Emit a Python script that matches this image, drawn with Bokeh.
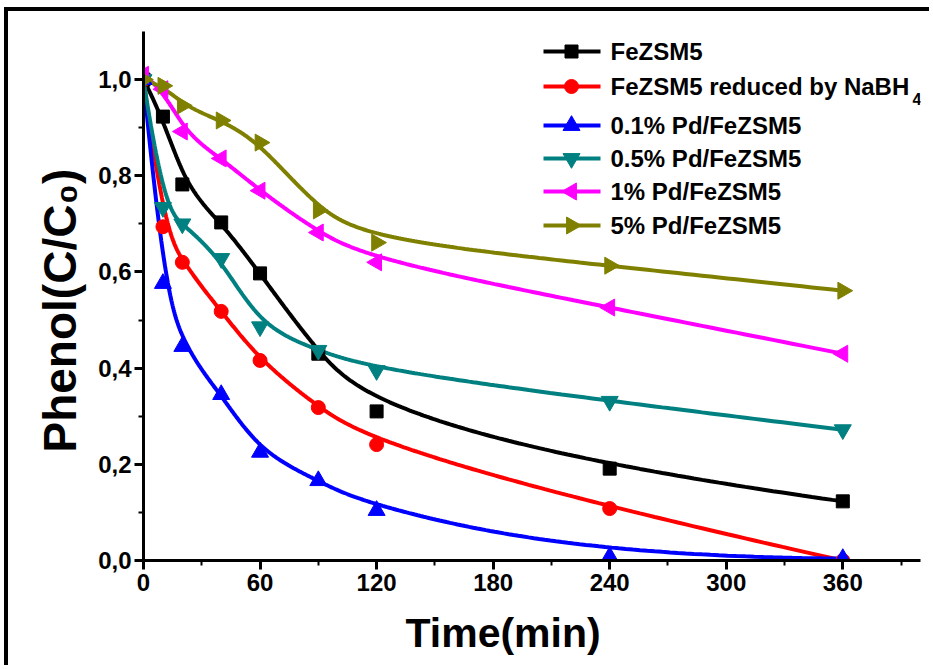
import numpy as np
from bokeh.plotting import figure
from bokeh.models import Range1d, FixedTicker, Label, Title
from bokeh.embed import file_html
from bokeh.resources import INLINE

# Phenol removal over time, C/C0
time_min = [0, 10, 20, 40, 60, 90, 120, 240, 360]
fezsm5 = [1.0, 0.923, 0.782, 0.703, 0.597, 0.430, 0.310, 0.191, 0.123]
fezsm5_nabh4 = [1.0, 0.694, 0.620, 0.518, 0.416, 0.318, 0.241, 0.108, 0.0]
pd_01 = [1.0, 0.576, 0.445, 0.345, 0.225, 0.166, 0.104, 0.008, 0.004]
pd_05 = [1.0, 0.734, 0.700, 0.628, 0.486, 0.437, 0.395, 0.331, 0.272]
pd_1 = [1.01, 0.980, 0.892, 0.836, 0.769, 0.682, 0.620, 0.526, 0.430]
pd_5 = [1.0, 0.987, 0.946, 0.915, 0.869, 0.728, 0.661, 0.613, 0.561]

series_names = ["FeZSM5", "FeZSM5 reduced by NaBH", "0.1% Pd/FeZSM5",
                "0.5% Pd/FeZSM5", "1% Pd/FeZSM5", "5% Pd/FeZSM5"]
series_values = [fezsm5, fezsm5_nabh4, pd_01, pd_05, pd_1, pd_5]
series_colors = ["#000000", "#FF0000", "#0000FF", "#008080", "#FF00FF", "#808000"]
series_markers = ["square", "circle", "triangle", "inverted_triangle", "triangle", "triangle"]
marker_angles = [0, 0, 0, 0, np.pi / 2, -np.pi / 2]
marker_sizes = [13, 14, 17, 17, 17, 17]

x_ticks = [0, 60, 120, 180, 240, 300, 360]
x_minor = [30, 90, 150, 210, 270, 330, 390]
y_ticks = [0.0, 0.2, 0.4, 0.6, 0.8, 1.0]
y_tick_labels = ["0,0", "0,2", "0,4", "0,6", "0,8", "1,0"]
y_minor = [0.1, 0.3, 0.5, 0.7, 0.9]

FONT = "Liberation Sans"
# the canvas sits inside a black top/left page rule drawn with CSS
OX, OY = 8, 11
W, H = 933 - OX, 669 - OY
LEFT, RIGHT, TOP, BOTTOM = 143 - OX, 920 - OX, 31 - OY, 560 - OY
X0, X1, Y0, Y1 = 0, 400, 0, 1.1


def dx(px):
    """page x -> data x"""
    return X0 + (px - OX - LEFT) * (X1 - X0) / (RIGHT - LEFT)


def dy(py):
    """page y -> data y"""
    return Y0 + (BOTTOM - (py - OY)) * (Y1 - Y0) / (BOTTOM - TOP)


def bspline(xs, ys, samples=400, k=3):
    """Clamped uniform cubic B-spline using the points as control polygon."""
    P = np.column_stack([xs, ys]).astype(float)
    nc = len(P)
    T = np.concatenate([np.zeros(k + 1), np.arange(1, nc - k), np.full(k + 1, nc - k)]).astype(float)
    u = np.linspace(0, nc - k, samples)
    u[-1] -= 1e-9
    N = np.zeros((samples, len(T) - 1))
    for i in range(len(T) - 1):
        N[:, i] = ((T[i] <= u) & (u < T[i + 1])).astype(float)
    for d in range(1, k + 1):
        M = np.zeros((samples, len(T) - 1 - d))
        for i in range(len(T) - 1 - d):
            a = (u - T[i]) / (T[i + d] - T[i]) if T[i + d] > T[i] else 0.0
            b = (T[i + d + 1] - u) / (T[i + d + 1] - T[i + 1]) if T[i + d + 1] > T[i + 1] else 0.0
            M[:, i] = a * N[:, i] + b * N[:, i + 1]
        N = M
    C = N @ P
    return C[:, 0], C[:, 1]


p = figure(width=W, height=H, x_range=Range1d(X0, X1), y_range=Range1d(Y0, Y1),
           output_backend="svg", toolbar_location=None,
           min_border_left=LEFT, min_border_right=W - RIGHT,
           min_border_top=TOP, min_border_bottom=H - BOTTOM)
p.styles = {"margin-left": "4px", "margin-top": "7px",
            "border-left": "4px solid black", "border-top": "4px solid black"}
p.title.visible = False
p.outline_line_color = None
p.xgrid.visible = False
p.ygrid.visible = False
p.background_fill_color = "white"
p.border_fill_color = "white"

for ax in (p.xaxis[0], p.yaxis[0]):
    ax.axis_line_width = 3
    ax.axis_line_color = "black"
    ax.major_tick_line_width = 3
    ax.minor_tick_line_width = 2
    ax.major_tick_in = 0
    ax.major_tick_out = 9
    ax.minor_tick_in = 0
    ax.minor_tick_out = 5
    ax.major_label_text_font = FONT
    ax.major_label_text_font_style = "bold"
    ax.major_label_text_font_size = "24px"
    ax.major_label_text_color = "black"

p.xaxis.ticker = FixedTicker(ticks=x_ticks, minor_ticks=x_minor)
p.xaxis.major_label_standoff = 4
p.yaxis.ticker = FixedTicker(ticks=y_ticks, minor_ticks=y_minor)
p.yaxis.major_label_overrides = dict(zip(y_ticks, y_tick_labels))
p.yaxis.major_label_standoff = 3

# axis titles
p.add_layout(Title(text="Time(min)", align="left", offset=405 - OX - LEFT, standoff=28,
                   text_font=FONT, text_font_style="bold", text_font_size="41px",
                   text_color="black"), "below")
p.add_layout(Title(text="Phenol(C/C\u2080)", align="left", offset=BOTTOM - (452 - OY),
                   standoff=20, text_font=FONT, text_font_style="bold",
                   text_font_size="46px", text_color="black"), "left")

# curves and markers
for vals, col in zip(series_values, series_colors):
    cx, cy = bspline(time_min, vals)
    p.line(cx, cy, line_color=col, line_width=4)
for vals, col, mk, ang, sz in zip(series_values, series_colors, series_markers,
                                  marker_angles, marker_sizes):
    p.scatter(time_min, vals, marker=mk, angle=ang, size=sz,
              fill_color=col, line_color=col)

# legend
legend_rows_px = [51, 86, 125, 158, 191, 225]
for name, col, mk, ang, sz, ry in zip(series_names, series_colors, series_markers,
                                      marker_angles, marker_sizes, legend_rows_px):
    yv = dy(ry)
    p.line([dx(543), dx(600)], [yv, yv], line_color=col, line_width=4)
    p.scatter([dx(571)], [yv], marker=mk, angle=ang, size=sz,
              fill_color=col, line_color=col)
    p.add_layout(Label(x=dx(610), y=yv, text=name, text_font=FONT,
                       text_font_style="bold", text_font_size="24px",
                       text_baseline="middle", text_align="left", text_color="black"))
p.add_layout(Label(x=dx(912), y=dy(98), text="4", text_font=FONT,
                   text_font_style="bold", text_font_size="16px",
                   text_baseline="middle", text_align="left", text_color="black"))

open("out.html", "w").write(file_html(p, INLINE))
